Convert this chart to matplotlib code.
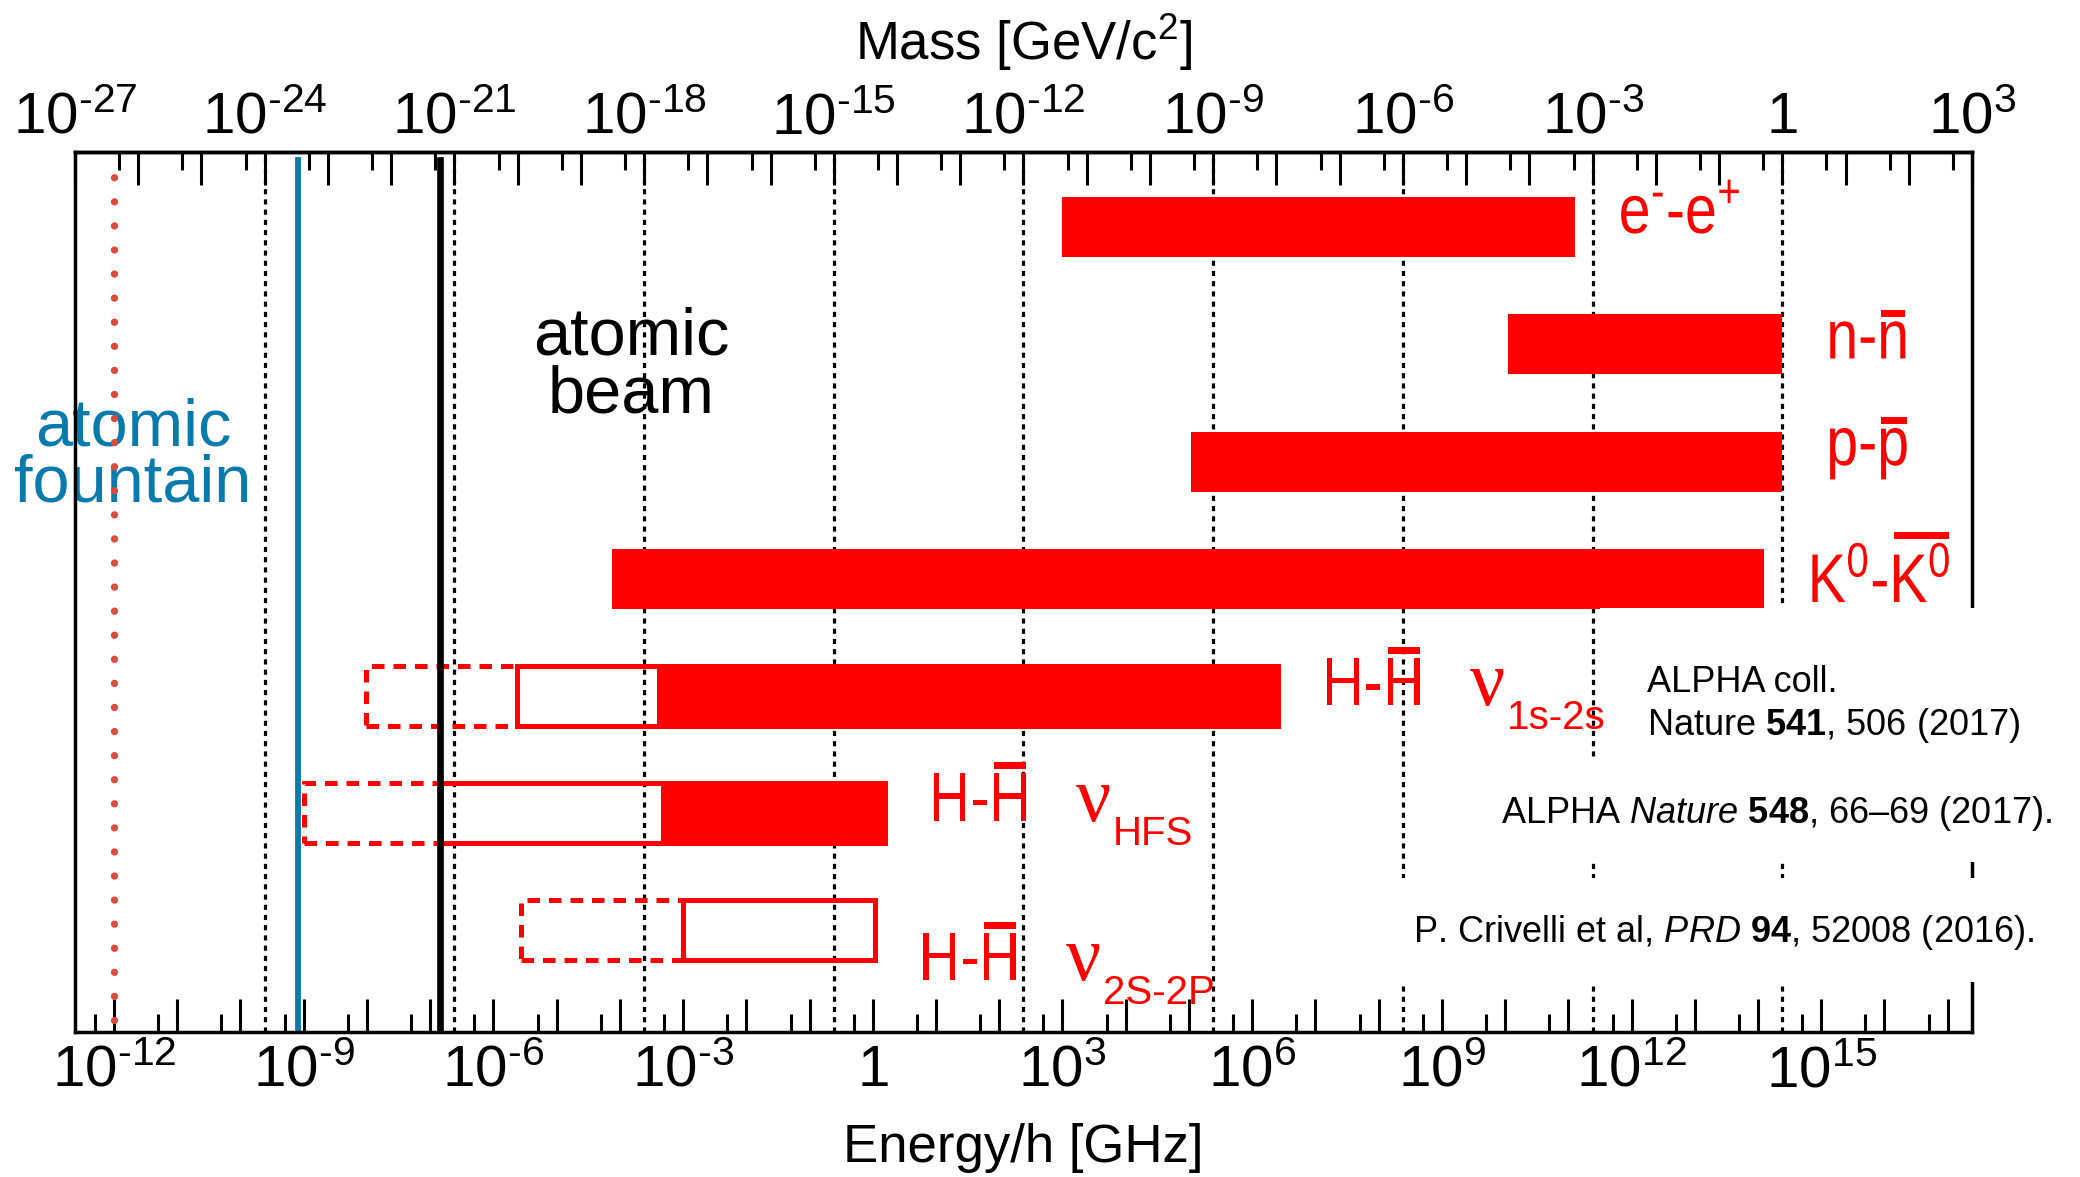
import numpy as np
import matplotlib
matplotlib.use('Agg')
import matplotlib.pyplot as plt
from matplotlib.font_manager import FontProperties
from matplotlib.patches import Rectangle, PathPatch
from matplotlib.path import Path
from matplotlib.textpath import TextPath
from matplotlib.transforms import Affine2D
from matplotlib.ticker import LogLocator, FuncFormatter, NullFormatter

GEV_TO_GHZ = 2.417989e14   # 1 GeV/h in GHz
SANS = 'Liberation Sans'

plt.rcParams['font.family'] = [SANS, 'DejaVu Sans']
plt.rcParams['mathtext.fontset'] = 'custom'
plt.rcParams['mathtext.rm'] = SANS
plt.rcParams['mathtext.it'] = SANS + ':italic'
plt.rcParams['mathtext.bf'] = SANS + ':bold'

RED = '#ff0000'
BLUE = '#0a7aad'
DOT_RED = '#de4a3c'
PT = 72 / 100  # px -> pt at dpi 100

# ---- data, energies in GHz ----
# (full label, part before the overlined symbol or None)
row_labels = [(r'e$^{\text{-}}$-e$^{+}$', None), ('n-n', 'n-'), ('p-p', 'p-'),
              (r'K$^{0}$-K$^{0}$', r'K$^{0}$-'), ('H-H', 'H-'), ('H-H', 'H-'), ('H-H', 'H-')]
row_y = [7, 6, 5, 4, 3, 2, 1]

solid_y = [7, 6, 5, 4, 3, 2]
solid_lo = [1.0e3, 1.1e10, 1.07e5, 7.4e-5, 4.2e-4, 4.8e-4]
solid_hi = [1.26e11, 2.42e14, 2.42e14, 1.23e14, 2.6e6, 1.55]
solid_outlined = [False, False, False, False, True, True]

open_y = [3, 2, 1]
open_lo = [2.4e-6, 1.5e-7, 1.0e-3]
open_hi = [4.2e-4, 4.8e-4, 1.07]

dash_y = [3, 2, 1]
dash_lo = [9.5e-9, 1.0e-9, 2.7e-6]
dash_hi = [2.4e-6, 1.5e-7, 1.0e-3]

nu_y = [3, 2, 1]
nu_sub = ['1s-2s', 'HFS', '2S-2P']

dotted_E = 1.0e-12      # red dotted line
fountain_E = 8.0e-10    # atomic fountain
beam_E = 1.45e-7        # atomic beam

mass_grid = [1e-24, 1e-21, 1e-18, 1e-15, 1e-12, 1e-9, 1e-6, 1e-3, 1.0]   # GeV

refs = [
    ('ALPHA coll.', 0.8287, 0.3864),
    (r'Nature $\mathbf{541}$, 506 (2017)', 0.8287, 0.3375),
    (r'ALPHA $\mathit{Nature}$ $\mathbf{548}$, 66–69 (2017).', 0.7517, 0.2375),
    (r'P. Crivelli et al, $\mathit{PRD}$ $\mathbf{94}$, 52008 (2016).', 0.7053, 0.1023),
]
# white boxes behind the references (axes fraction: x0, y0, x1, y1)
masks = [(0.804, 0.309, 1.06, 0.4818), (0.746, 0.193, 1.06, 0.309), (0.696, 0.0568, 1.06, 0.175)]

label_dy = [6, 14, 3.5, 23.5, 9.5, 8, 50]   # baseline offsets below bar centre, px
BAR_H = 0.512
LABEL_PX = 69      # label font size in px
SQUEEZE = 0.83     # condensed look of the row labels

fig = plt.figure(figsize=(20.8, 11.77), dpi=100)
ax = fig.add_axes([0.03606, 0.1232, 0.9120, 0.7477])
ax.set_xscale('log')
ax.set_xlim(1e-27 * GEV_TO_GHZ, 1e3 * GEV_TO_GHZ)
ax.set_ylim(0.129, 7.644)

# dotted grid at every third mass decade
for m in mass_grid:
    ax.axvline(m * GEV_TO_GHZ, color='k', lw=2.3, ls=(0, (1.6, 1.6)), zorder=1)

# bars
for y, lo, hi, edged in zip(solid_y, solid_lo, solid_hi, solid_outlined):
    ax.barh(y, hi - lo, left=lo, height=BAR_H, color=RED, edgecolor=RED,
            linewidth=3.6 if edged else 0, zorder=2)
for y, lo, hi in zip(dash_y, dash_lo, dash_hi):
    ax.barh(y, hi - lo, left=lo, height=BAR_H, fill=False, edgecolor=RED,
            linewidth=3.6, linestyle=(0, (2.5, 1.8)), zorder=2)
for y, lo, hi in zip(open_y, open_lo, open_hi):
    ax.barh(y, hi - lo, left=lo, height=BAR_H, fill=False, edgecolor=RED,
            linewidth=3.6, zorder=2.1)

# vertical reference lines
ax.axvline(dotted_E, ymin=0.0136, ymax=0.985, color=DOT_RED, lw=5.3,
           ls=(0, (0.001, 3.27)), dash_capstyle='round', zorder=2.2)
ax.axvline(fountain_E, ymin=0, ymax=0.991, color=BLUE, lw=4.2, zorder=2.2)
ax.axvline(beam_E, ymin=0.003, ymax=0.991, color='k', lw=4.8, zorder=2.2)

ax.text(0.0306, 0.667, 'atomic', transform=ax.transAxes, ha='center', va='baseline',
        fontsize=48, color=BLUE, zorder=0.5)
ax.text(0.0306, 0.6023, 'fountain', transform=ax.transAxes, ha='center', va='baseline',
        fontsize=48, color=BLUE, zorder=0.5)
ax.text(0.2931, 0.7693, 'atomic', transform=ax.transAxes, ha='center', va='baseline',
        fontsize=48, color='k', zorder=0.5)
ax.text(0.2931, 0.7045, 'beam', transform=ax.transAxes, ha='center', va='baseline',
        fontsize=48, color='k', zorder=0.5)

# row labels (condensed text paths with a thick overline), right of each row
label_prop = FontProperties(family=SANS)


def ink(path):
    v = path.vertices[path.codes != Path.CLOSEPOLY] if path.codes is not None else path.vertices
    return v


def row_label(text, prefix, x, y, dx, dy):
    full = TextPath((0, 0), text, size=LABEL_PX, prop=label_prop)
    X, Y = ax.transData.transform((x, y))
    tr = Affine2D().scale(SQUEEZE, 1).translate(X + dx, Y - dy)
    ax.add_patch(PathPatch(full, transform=tr, facecolor=RED, edgecolor='none',
                           clip_on=False, zorder=4))
    if prefix is not None:
        n_pre = len(TextPath((0, 0), prefix, size=LABEL_PX, prop=label_prop).vertices)
        sub = Path(full.vertices[n_pre:], full.codes[n_pre:])
        v = ink(sub)
        x0, x1, top = v[:, 0].min(), v[:, 0].max(), v[:, 1].max()
        ax.add_patch(Rectangle((x0, top + 4), x1 - x0, 7, transform=tr, facecolor=RED,
                               edgecolor='none', clip_on=False, zorder=4))


row_end = {}
for y, hi in zip(solid_y + open_y, solid_hi + open_hi):
    row_end[y] = max(row_end.get(y, 0), hi)
for (lab, pre), y, dy in zip(row_labels, row_y, label_dy):
    row_label(lab, pre, row_end[y], y, 44, dy)
for y, sub in zip(nu_y, nu_sub):
    dy = label_dy[row_y.index(y)]
    ax.annotate('ν', xy=(row_end[y], y), xytext=(191 * PT, -dy * PT), textcoords='offset points',
                ha='left', va='baseline', fontsize=56, family='Liberation Serif', color=RED, zorder=4)
    ax.annotate(sub, xy=(row_end[y], y), xytext=(228 * PT, -(dy + 24) * PT), textcoords='offset points',
                ha='left', va='baseline', fontsize=29, color=RED, zorder=4)

# white boxes and references
for x0, y0, x1, y1 in masks:
    ax.add_patch(Rectangle((x0, y0), x1 - x0, y1 - y0, transform=ax.transAxes,
                           facecolor='white', edgecolor='none', clip_on=False, zorder=3))
for txt, x, y in refs:
    ax.text(x, y, txt, transform=ax.transAxes, ha='left', va='baseline', fontsize=26,
            color='k', zorder=4)


def dec_label(v, pos):
    e = int(round(np.log10(v)))
    if e % 3:
        return ''
    if e == 0:
        return r'$\mathrm{1}$'
    if e < 0:
        return r'$\mathrm{10}^{\text{-}%d}$' % -e
    return r'$\mathrm{10}^{%d}$' % e


ax.xaxis.set_major_locator(LogLocator(base=10, subs=(1.0,), numticks=100))
ax.xaxis.set_minor_locator(LogLocator(base=10, subs=(5.0,), numticks=100))
ax.xaxis.set_major_formatter(FuncFormatter(dec_label))
ax.xaxis.set_minor_formatter(NullFormatter())
ax.tick_params(axis='x', which='major', direction='in', length=24, width=2.2,
               labelsize=42, pad=9, top=False)
ax.tick_params(axis='x', which='minor', direction='in', length=13, width=2.2, top=False)
ax.tick_params(axis='y', left=False, labelleft=False)
for s in ax.spines.values():
    s.set_linewidth(2.5)
ax.set_xlabel('Energy/h [GHz]', fontsize=38, labelpad=18)

sec = ax.secondary_xaxis('top', functions=(lambda e: e / GEV_TO_GHZ, lambda m: m * GEV_TO_GHZ))
sec.xaxis.set_major_locator(LogLocator(base=10, subs=(1.0,), numticks=100))
sec.xaxis.set_minor_locator(LogLocator(base=10, subs=(5.0,), numticks=100))
sec.xaxis.set_major_formatter(FuncFormatter(dec_label))
sec.xaxis.set_minor_formatter(NullFormatter())
sec.tick_params(which='major', direction='in', length=24, width=2.2, labelsize=42, pad=5)
sec.tick_params(which='minor', direction='in', length=13, width=2.2)
sec.spines['top'].set_linewidth(2.5)
sec.set_xlabel('Mass [GeV/c$^{2}$]', fontsize=38, labelpad=22)

fig.savefig('out.png', dpi=100)
